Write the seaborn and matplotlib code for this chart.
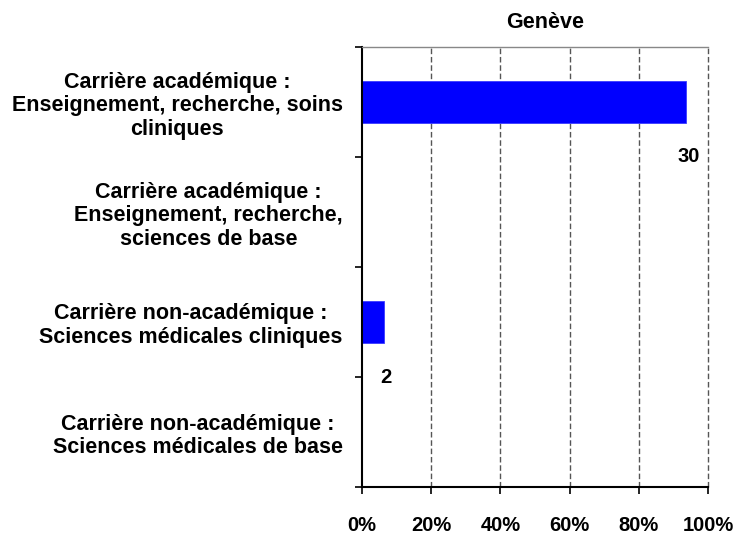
import pandas as pd
import numpy as np
import matplotlib
matplotlib.use("Agg")
import matplotlib.pyplot as plt
import seaborn as sns

categories = [
    "Carrière académique :\nEnseignement, recherche, soins\ncliniques",
    "Carrière académique :\nEnseignement, recherche,\nsciences de base",
    "Carrière non-académique :\nSciences médicales cliniques",
    "Carrière non-académique :\nSciences médicales de base",
]
counts = [30, 0, 2, 0]
title = "Genève"
xticks = [0, 20, 40, 60, 80, 100]

def run_plot():
    sns.set_style("white")
    plt.rcParams['font.family'] = ['Liberation Sans', 'DejaVu Sans']
    plt.rcParams['font.weight'] = 'bold'
    plt.rcParams['text.color'] = 'black'
    plt.rcParams['xtick.color'] = 'black'
    plt.rcParams['ytick.color'] = 'black'

    total = sum(counts)
    df = pd.DataFrame({
        'cat': categories,
        'pct': [c / total * 100 for c in counts],
        'n': counts,
    })

    fig = plt.figure(figsize=(7.39, 5.37), dpi=100)
    ax = fig.add_axes([0.4899, 0.0931, 0.4683, 0.8194])

    sns.barplot(data=df, x='pct', y='cat', color='#0000FF', saturation=1,
                width=0.39, orient='h', ax=ax, edgecolor='#3a3aff', linewidth=0.6)

    ax.set_xlim(0, 100)
    ax.set_ylim(3.5, -0.5)
    ax.set_xlabel('')
    ax.set_ylabel('')

    # grid verticale en tirets
    for x in xticks[1:]:
        ax.axvline(x, color='#555555', linestyle=(0, (4, 2)), linewidth=1.0, zorder=0, clip_on=False)

    ax.set_xticks(xticks)
    ax.set_xticklabels([f"{v}%" for v in xticks], fontsize=14.5, fontweight='bold', color='black')
    ax.tick_params(axis='x', direction='out', length=5, width=1.2, colors='black', pad=16, bottom=True)

    # ticks aux limites des catégories, libellés au milieu
    ax.set_yticks(np.arange(-0.5, 4, 1.0))
    ax.set_yticklabels([])
    ax.set_yticks(range(len(categories)), minor=True)
    ax.set_yticklabels(categories, minor=True, fontsize=15.5, fontweight='bold', color='black',
                       multialignment='center', linespacing=1.15)
    ax.tick_params(axis='y', which='major', direction='out', length=5, width=1.2, colors='black', left=True)
    ax.tick_params(axis='y', which='minor', length=0, pad=14)

    for side in ['left', 'bottom']:
        ax.spines[side].set_color('black')
        ax.spines[side].set_linewidth(1.5)
    ax.spines['top'].set_color('#888888')
    ax.spines['top'].set_linewidth(1.0)
    ax.spines['right'].set_visible(False)

    for i, row in df.iterrows():
        if row['n'] > 0:
            ax.text(row['pct'] + 0.5, i + 0.5, str(row['n']), ha='center', va='center',
                    fontsize=14.5, fontweight='bold', color='black')

    ax.set_title(title, fontsize=15.5, fontweight='bold', pad=14, x=0.53, color='black')

    plt.savefig("out.png", dpi=100)
    plt.close()

if __name__ == "__main__":
    run_plot()
